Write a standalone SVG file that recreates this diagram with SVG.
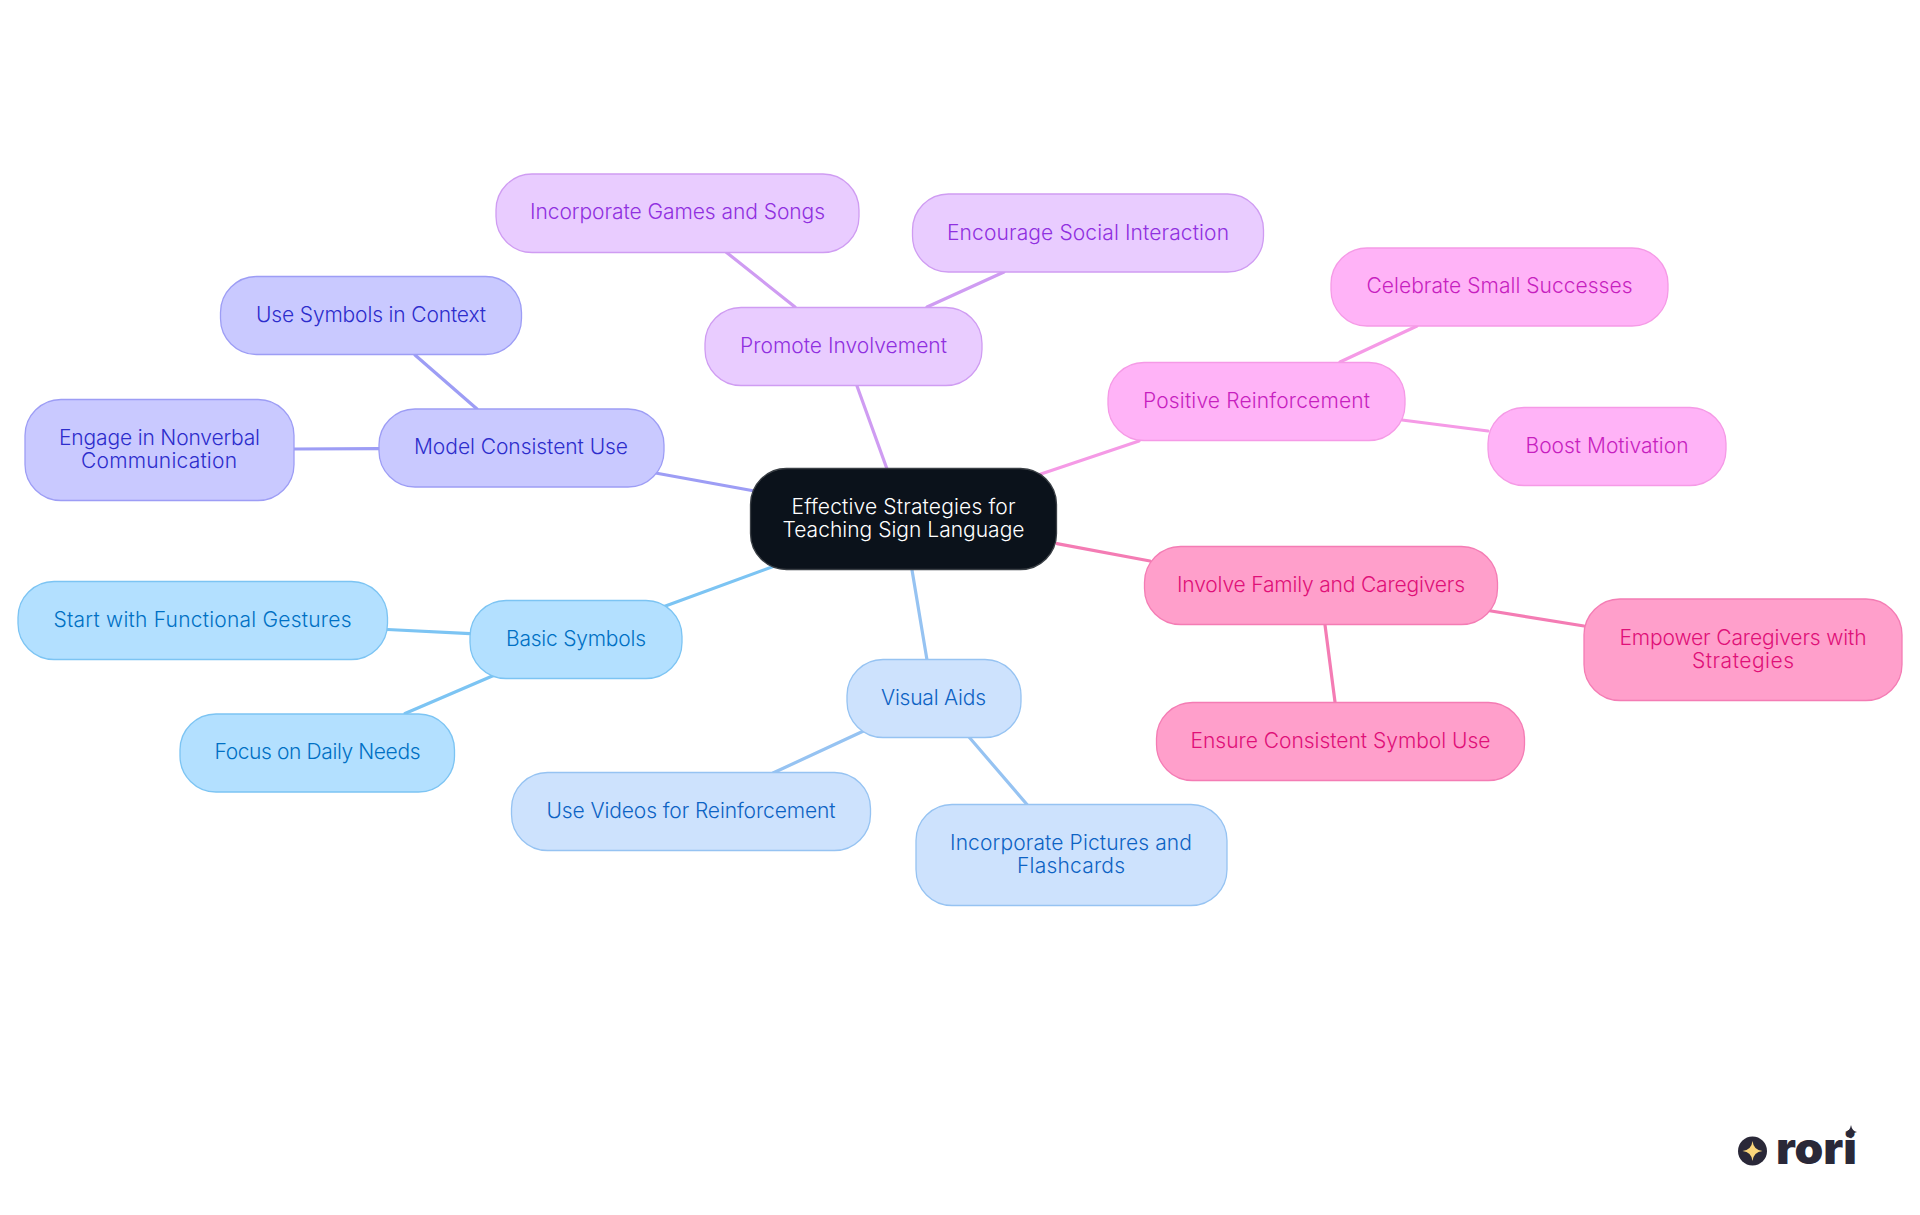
<svg xmlns="http://www.w3.org/2000/svg" width="1920" height="1215" viewBox="0 0 1920 1215">
<style>
text{font-family:"Inter","Noto Sans",sans-serif;font-size:21px;font-weight:350;text-anchor:middle}
.n{stroke-width:1.3}
.e{fill:none;stroke-width:3.2;stroke-linecap:round}
.lb rect{fill:#b3e0ff;stroke:#7cc4f3}.lb text{fill:#0070c4}
.sb rect{fill:#cde2fd;stroke:#96c3f2}.sb text{fill:#0d63c4}
.in rect{fill:#c9c9ff;stroke:#9d9df5}.in text{fill:#2d2dcc}
.pu rect{fill:#e9ccff;stroke:#cf9cf2}.pu text{fill:#9030e0}
.mg rect{fill:#ffb3f7;stroke:#f59ae6}.mg text{fill:#c71fbf}
.pk rect{fill:#ff9fcb;stroke:#f47cb4}.pk text{fill:#e01078}
.logo{fill:#2a2838}
</style>
<rect width="1920" height="1215" fill="#fff"/>
<g id="connectors">
<path class="e" stroke="#cf9cf2" d="M857 386L887 469"/>
<path class="e" stroke="#f59ae6" d="M1035 476L1139 441"/>
<path class="e" stroke="#f47cb4" d="M1057 543.6L1150 561"/>
<path class="e" stroke="#96c3f2" d="M912 570L927 660"/>
<path class="e" stroke="#7cc4f3" d="M780 564L660 608"/>
<path class="e" stroke="#9d9df5" d="M760 492L650 472"/>
<path class="e" stroke="#9d9df5" d="M415 355L477 409"/>
<path class="e" stroke="#9d9df5" d="M294 449L379 448.6"/>
<path class="e" stroke="#7cc4f3" d="M387.5 629.5L470 633.6"/>
<path class="e" stroke="#7cc4f3" d="M497 674L405 713.5"/>
<path class="e" stroke="#96c3f2" d="M870 728L773 773"/>
<path class="e" stroke="#96c3f2" d="M969 737L1027 804.5"/>
<path class="e" stroke="#f47cb4" d="M1485 610L1584 626"/>
<path class="e" stroke="#f47cb4" d="M1325 625L1335 702"/>
<path class="e" stroke="#f59ae6" d="M1340 362L1417 326"/>
<path class="e" stroke="#f59ae6" d="M1402 420L1488 431"/>
<path class="e" stroke="#cf9cf2" d="M795 307L726 252"/>
<path class="e" stroke="#cf9cf2" d="M927 307L1004 272"/>
</g>
<g id="hub"><rect class="n" x="750.5" y="468.5" width="306" height="101" rx="36" fill="#0b121b" stroke="#3a3f45"/><text x="903.5" y="514" fill="#fff" textLength="224">Effective Strategies for</text><text x="903.5" y="537" fill="#fff" textLength="242">Teaching Sign Language</text></g>
<g id="n-games" class="pu"><rect class="n" x="496" y="174" width="363" height="78.5" rx="36"/><text x="677.5" y="219" textLength="295">Incorporate Games and Songs</text></g>
<g id="n-social" class="pu"><rect class="n" x="912.5" y="194" width="351" height="78" rx="36"/><text x="1088" y="240" textLength="282">Encourage Social Interaction</text></g>
<g id="n-promote" class="pu"><rect class="n" x="705" y="307.5" width="277" height="78" rx="36"/><text x="843.5" y="353" textLength="207">Promote Involvement</text></g>
<g id="n-celebrate" class="mg"><rect class="n" x="1331" y="248" width="337" height="78" rx="36"/><text x="1499.5" y="293" textLength="266">Celebrate Small Successes</text></g>
<g id="n-positive" class="mg"><rect class="n" x="1108" y="362.5" width="297" height="78" rx="36"/><text x="1256.5" y="408" textLength="227">Positive Reinforcement</text></g>
<g id="n-boost" class="mg"><rect class="n" x="1488" y="407.5" width="238" height="78" rx="36"/><text x="1607" y="453" textLength="163">Boost Motivation</text></g>
<g id="n-involve" class="pk"><rect class="n" x="1144.5" y="546.5" width="353" height="78" rx="36"/><text x="1321" y="592" textLength="288">Involve Family and Caregivers</text></g>
<g id="n-empower" class="pk"><rect class="n" x="1584" y="599" width="318" height="101.5" rx="36"/><text x="1743" y="645" textLength="247">Empower Caregivers with</text><text x="1743" y="668" textLength="102">Strategies</text></g>
<g id="n-ensure" class="pk"><rect class="n" x="1156.5" y="702.5" width="368" height="78" rx="36"/><text x="1340.5" y="748" textLength="300">Ensure Consistent Symbol Use</text></g>
<g id="n-context" class="in"><rect class="n" x="220.5" y="276.5" width="301" height="78" rx="36"/><text x="371" y="322" textLength="230">Use Symbols in Context</text></g>
<g id="n-engage" class="in"><rect class="n" x="25" y="399.5" width="269" height="101" rx="36"/><text x="159.5" y="445" textLength="201">Engage in Nonverbal</text><text x="159" y="468" textLength="156">Communication</text></g>
<g id="n-model" class="in"><rect class="n" x="379" y="409" width="285" height="78" rx="36"/><text x="521" y="454" textLength="214">Model Consistent Use</text></g>
<g id="n-start" class="lb"><rect class="n" x="18" y="581.5" width="369.5" height="78" rx="36"/><text x="202.5" y="627" textLength="298">Start with Functional Gestures</text></g>
<g id="n-basic" class="lb"><rect class="n" x="470" y="600.5" width="212" height="78" rx="36"/><text x="576" y="646" textLength="140">Basic Symbols</text></g>
<g id="n-focus" class="lb"><rect class="n" x="180" y="714" width="274.5" height="78" rx="36"/><text x="317.5" y="759" textLength="206">Focus on Daily Needs</text></g>
<g id="n-visual" class="sb"><rect class="n" x="847" y="659.5" width="174" height="78" rx="36"/><text x="933.5" y="705" textLength="105">Visual Aids</text></g>
<g id="n-videos" class="sb"><rect class="n" x="511.5" y="772.5" width="359" height="78" rx="36"/><text x="691" y="818" textLength="289">Use Videos for Reinforcement</text></g>
<g id="n-pictures" class="sb"><rect class="n" x="916" y="804.5" width="311" height="101" rx="36"/><text x="1071" y="850" textLength="242">Incorporate Pictures and</text><text x="1071" y="873" textLength="108">Flashcards</text></g>
<g id="logo">
<circle class="logo" cx="1752.5" cy="1151" r="14.5"/>
<path fill="#fbd67b" d="M1752.5 1141Q1753.5 1150 1762.5 1151Q1753.5 1152 1752.5 1161Q1751.5 1152 1742.5 1151Q1751.5 1150 1752.5 1141Z"/>
<text x="1816.5" y="1164" textLength="81" lengthAdjust="spacingAndGlyphs" style="font-family:'Inter','Noto Sans',sans-serif;font-size:44px;font-weight:900" class="logo">rori</text>
<path class="logo" d="M1851 1125Q1852 1131 1857 1132Q1852 1133 1851 1139Q1850 1133 1845 1132Q1850 1131 1851 1125Z"/>
</g>
</svg>
